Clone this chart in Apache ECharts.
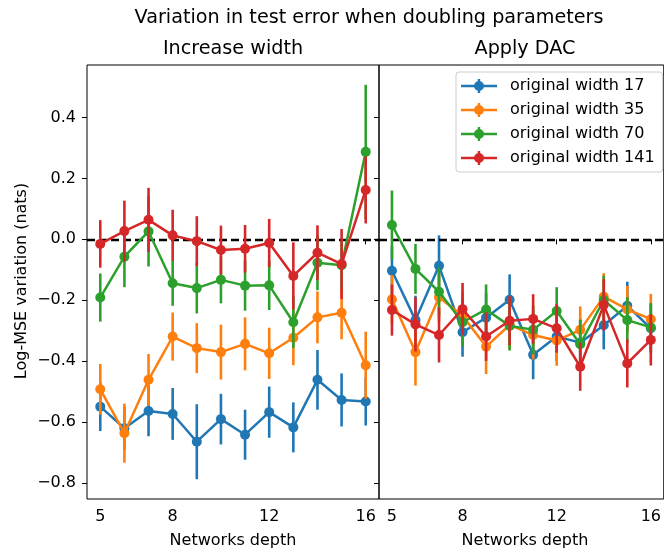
<!DOCTYPE html>
<html>
<head>
<meta charset="utf-8">
<script src="https://cdn.jsdelivr.net/npm/echarts@6/dist/echarts.min.js"></script>
<style>
  html, body { margin: 0; padding: 0; background: #fff; }
  #chart { width: 664px; height: 554px; }
</style>
</head>
<body>
<div id="chart"></div>
<script>
// Network depths on the x axis
const depths = [5, 6, 7, 8, 9, 10, 11, 12, 13, 14, 15, 16];
const seriesNames = ['original width 17', 'original width 35', 'original width 70', 'original width 141'];
const seriesColors = ['#1f77b4', '#ff7f0e', '#2ca02c', '#d62728'];
const xTicks = [5, 8, 12, 16];
const yTicks = [-0.8, -0.6, -0.4, -0.2, 0.0, 0.2, 0.4];

// Left panel: increase width (mean and error half-width)
const widen17 = [-0.549, -0.620, -0.563, -0.573, -0.664, -0.590, -0.641, -0.567, -0.617, -0.461, -0.527, -0.532];
const widen17Err = [0.080, 0.070, 0.083, 0.085, 0.123, 0.083, 0.082, 0.084, 0.082, 0.098, 0.087, 0.079];
const widen35 = [-0.492, -0.636, -0.461, -0.319, -0.357, -0.370, -0.343, -0.374, -0.323, -0.256, -0.241, -0.413];
const widen35Err = [0.083, 0.097, 0.085, 0.079, 0.082, 0.090, 0.087, 0.084, 0.090, 0.085, 0.087, 0.110];
const widen70 = [-0.191, -0.057, 0.026, -0.144, -0.160, -0.133, -0.152, -0.151, -0.272, -0.077, -0.085, 0.287];
const widen70Err = [0.079, 0.100, 0.115, 0.074, 0.083, 0.077, 0.082, 0.081, 0.085, 0.090, 0.080, 0.220];
const widen141 = [-0.015, 0.027, 0.064, 0.013, -0.006, -0.035, -0.031, -0.012, -0.120, -0.044, -0.081, 0.162];
const widen141Err = [0.078, 0.100, 0.105, 0.084, 0.082, 0.080, 0.078, 0.079, 0.110, 0.090, 0.115, 0.110];

// Right panel: apply DAC
const dac17 = [-0.103, -0.265, -0.087, -0.305, -0.257, -0.198, -0.379, -0.319, -0.339, -0.282, -0.218, -0.292];
const dac17Err = [0.080, 0.080, 0.100, 0.080, 0.080, 0.083, 0.080, 0.080, 0.080, 0.079, 0.079, 0.080];
const dac35 = [-0.197, -0.370, -0.190, -0.251, -0.352, -0.281, -0.314, -0.332, -0.297, -0.188, -0.230, -0.262];
const dac35Err = [0.080, 0.110, 0.080, 0.080, 0.090, 0.080, 0.080, 0.083, 0.077, 0.077, 0.077, 0.083];
const dac70 = [0.047, -0.097, -0.172, -0.272, -0.230, -0.284, -0.297, -0.235, -0.344, -0.199, -0.265, -0.289];
const dac70Err = [0.113, 0.082, 0.080, 0.080, 0.082, 0.081, 0.080, 0.078, 0.080, 0.080, 0.075, 0.080];
const dac141 = [-0.232, -0.279, -0.314, -0.229, -0.319, -0.267, -0.261, -0.292, -0.418, -0.215, -0.407, -0.330];
const dac141Err = [0.084, 0.089, 0.090, 0.086, 0.080, 0.080, 0.081, 0.080, 0.079, 0.084, 0.079, 0.084];

const FONT = 'DejaVu Sans';
const panels = [
  { means: [widen17, widen35, widen70, widen141], errs: [widen17Err, widen35Err, widen70Err, widen141Err] },
  { means: [dac17, dac35, dac70, dac141], errs: [dac17Err, dac35Err, dac70Err, dac141Err] }
];

const fmtY = v => (v < 0 ? '\u2212' + Math.abs(v).toFixed(1) : v.toFixed(1));

function xAxisFor(gi) {
  return {
    type: 'value', gridIndex: gi, min: 4.45, max: 16.55,
    axisLine: { show: false },
    splitLine: { show: false },
    axisTick: { show: true, length: 5, customValues: xTicks, lineStyle: { color: '#000', width: 1 } },
    axisLabel: { customValues: xTicks, margin: 10, color: '#000', fontSize: 16, fontFamily: FONT }
  };
}
function yAxisFor(gi) {
  return {
    type: 'value', gridIndex: gi, min: -0.852, max: 0.572,
    axisLine: { show: false },
    splitLine: { show: false },
    axisTick: { show: true, length: 5, customValues: yTicks, lineStyle: { color: '#000', width: 1 } },
    axisLabel: { show: gi === 0, customValues: yTicks, margin: 11, color: '#000', fontSize: 16, fontFamily: FONT, formatter: fmtY }
  };
}

const series = [];
panels.forEach((panel, gi) => {
  // dashed zero reference line
  series.push({
    type: 'line', xAxisIndex: gi, yAxisIndex: gi, z: 1, data: [], silent: true,
    markLine: {
      silent: true, symbol: 'none', animation: false, label: { show: false },
      lineStyle: { color: '#000', type: [8, 4], width: 2.4 },
      data: [{ yAxis: 0 }]
    }
  });
  panel.means.forEach((m, si) => {
    const e = panel.errs[si];
    const color = seriesColors[si];
    series.push({
      type: 'custom', name: 'err-' + gi + '-' + si, xAxisIndex: gi, yAxisIndex: gi, z: 2 + 2 * si,
      data: depths.map((d, i) => [d, m[i] - e[i], m[i] + e[i]]),
      encode: { x: 0, y: [1, 2] },
      renderItem: (params, api) => {
        const p1 = api.coord([api.value(0), api.value(1)]);
        const p2 = api.coord([api.value(0), api.value(2)]);
        return { type: 'line', shape: { x1: p1[0], y1: p1[1], x2: p2[0], y2: p2[1] }, style: { stroke: color, lineWidth: 2.6 } };
      }
    });
    series.push({
      type: 'line', name: seriesNames[si], xAxisIndex: gi, yAxisIndex: gi, z: 3 + 2 * si,
      data: depths.map((d, i) => [d, m[i]]),
      symbol: 'circle', symbolSize: 10, showSymbol: true,
      itemStyle: { color: color },
      lineStyle: { color: color, width: 2.5 }
    });
  });
});

// legend glyph: horizontal line, vertical error bar and marker
const legendIcon = 'path://M0,5.8h36v2.4h-36z M16.8,0h2.4v14h-2.4z M13,7a5,5 0 1,1 10,0a5,5 0 1,1 -10,0z';

const chart = echarts.init(document.getElementById('chart'), null, { renderer: 'canvas' });
chart.setOption({
  animation: false,
  backgroundColor: '#fff',
  grid: [
    { left: 87, top: 65, width: 292, height: 434, show: true, borderColor: '#000', borderWidth: 1, backgroundColor: 'transparent' },
    { left: 379, top: 65, width: 291, height: 434, show: true, borderColor: '#000', borderWidth: 1, backgroundColor: 'transparent' }
  ],
  xAxis: [xAxisFor(0), xAxisFor(1)],
  yAxis: [yAxisFor(0), yAxisFor(1)],
  legend: {
    orient: 'vertical', left: 456, top: 72,
    data: seriesNames.map(n => ({ name: n, icon: legendIcon })),
    itemWidth: 36, itemHeight: 14, itemGap: 8,
    padding: [6, 8, 6, 5],
    backgroundColor: 'rgba(255,255,255,0.8)', borderColor: '#cccccc', borderWidth: 1, borderRadius: 3,
    textStyle: { color: '#000', fontSize: 16, lineHeight: 16, fontFamily: FONT, padding: [0, 0, 0, 8] },
    selectedMode: false
  },
  graphic: [
    { type: 'text', x: 369, y: 18, style: { text: 'Variation in test error when doubling parameters', align: 'center', verticalAlign: 'middle', fill: '#000', font: '19.2px "DejaVu Sans"' } },
    { type: 'text', x: 233, y: 49, style: { text: 'Increase width', align: 'center', verticalAlign: 'middle', fill: '#000', font: '19.2px "DejaVu Sans"' } },
    { type: 'text', x: 525, y: 49, style: { text: 'Apply DAC', align: 'center', verticalAlign: 'middle', fill: '#000', font: '19.2px "DejaVu Sans"' } },
    { type: 'text', x: 233, y: 541, style: { text: 'Networks depth', align: 'center', verticalAlign: 'middle', fill: '#000', font: '16px "DejaVu Sans"' } },
    { type: 'text', x: 525, y: 541, style: { text: 'Networks depth', align: 'center', verticalAlign: 'middle', fill: '#000', font: '16px "DejaVu Sans"' } },
    { type: 'text', x: 22, y: 281, rotation: Math.PI / 2, style: { text: 'Log-MSE variation (nats)', align: 'center', verticalAlign: 'middle', fill: '#000', font: '16px "DejaVu Sans"' } }
  ],
  series: series
});
</script>
</body>
</html>
